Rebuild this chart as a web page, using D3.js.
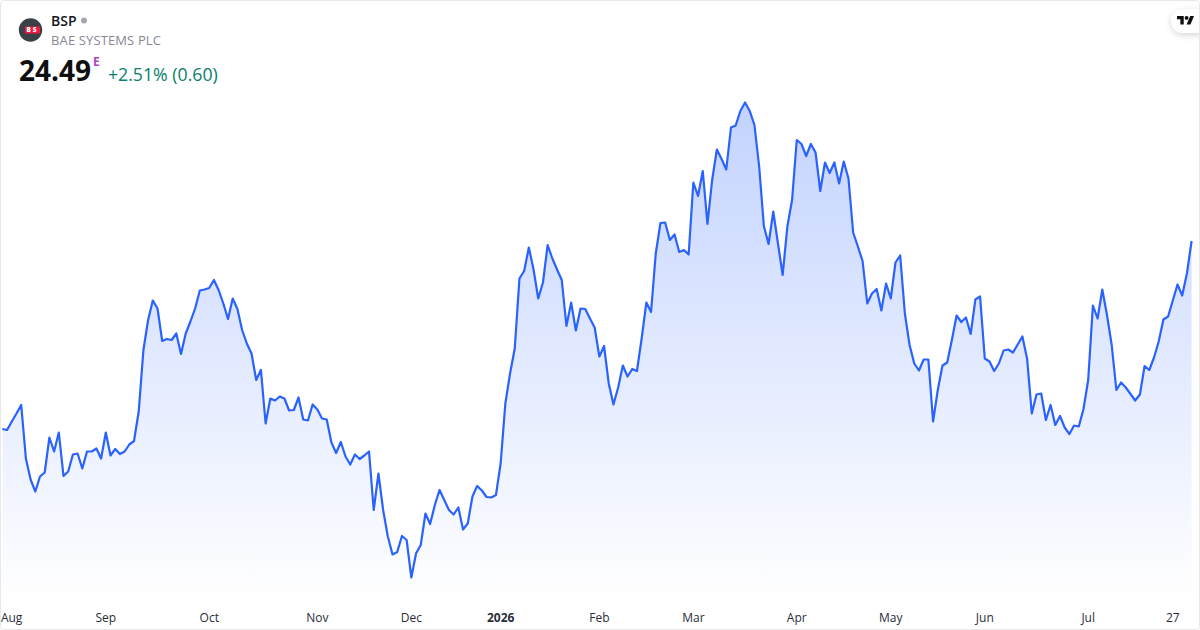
<!DOCTYPE html>
<html>
<head>
<meta charset="utf-8">
<script src="https://cdn.jsdelivr.net/npm/d3@7"></script>
<style>
  html, body { margin: 0; padding: 0; background: #fff; overflow: hidden; }
  text { font-family: "Open Sans", sans-serif; }
</style>
</head>
<body>
<div id="chart"></div>
<script>
// daily closes
const closes = [
  20.73,20.71,20.88,21.04,21.21,20.14,19.72,19.48,19.78,19.86,
  20.56,20.28,20.66,19.79,19.88,20.22,20.24,19.94,20.28,20.28,
  20.34,20.14,20.66,20.20,20.33,20.23,20.28,20.42,20.49,21.08,
  22.31,22.91,23.30,23.14,22.49,22.53,22.51,22.64,22.23,22.64,
  22.88,23.14,23.50,23.52,23.55,23.71,23.51,23.24,22.93,23.34,
  23.13,22.71,22.44,22.24,21.71,21.91,20.84,21.34,21.30,21.38,
  21.34,21.10,21.11,21.36,20.92,20.90,21.22,21.12,20.94,20.92,
  20.46,20.25,20.47,20.18,20.02,20.22,20.13,20.20,20.28,19.11,
  19.84,19.11,18.58,18.22,18.27,18.59,18.51,17.76,18.24,18.41,
  19.04,18.83,19.21,19.51,19.31,19.11,19.02,19.16,18.72,18.84,
  19.38,19.59,19.50,19.37,19.36,19.41,20.04,21.24,21.84,22.34,
  23.74,23.89,24.36,23.92,23.34,23.66,24.41,24.14,23.92,23.71,
  22.79,23.26,22.70,23.14,23.13,22.94,22.76,22.18,22.39,21.64,
  21.22,21.56,22.00,21.78,21.93,21.89,22.54,23.26,23.07,24.24,
  24.85,24.86,24.51,24.62,24.27,24.31,24.22,25.66,25.39,25.89,
  24.83,25.71,26.32,26.13,25.92,26.76,26.80,27.09,27.26,27.09,
  26.81,25.98,24.79,24.43,25.08,24.44,23.81,24.78,25.31,26.51,
  26.43,26.19,26.43,26.26,25.49,26.06,25.85,26.06,25.64,26.08,
  25.74,24.66,24.38,24.09,23.24,23.44,23.53,23.10,23.64,23.34,
  24.06,24.20,23.04,22.41,22.04,21.90,22.12,22.12,20.88,21.51,
  22.00,22.06,22.51,23.00,22.87,22.96,22.63,23.32,23.38,22.14,
  22.08,21.89,22.04,22.30,22.32,22.26,22.42,22.58,22.14,21.04,
  21.42,21.44,20.91,21.21,20.81,20.99,20.76,20.63,20.80,20.78,
  21.13,21.71,23.20,22.94,23.52,23.01,22.41,21.51,21.66,21.56,
  21.43,21.30,21.42,21.99,21.91,22.16,22.48,22.92,22.98,23.30,
  23.62,23.40,23.84,24.49
];
const tickIndex = [0, 22, 44, 67, 87, 106, 127, 147, 169, 189, 209, 231, 249];
const tickLabels = ["Aug", "Sep", "Oct", "Nov", "Dec", "2026", "Feb", "Mar", "Apr", "May", "Jun", "Jul", "27"];

const width = 1200;
const height = 630;
const plotBottom = 600;

const svg = d3.select("#chart")
  .append("svg")
    .attr("width", width)
    .attr("height", height)
    .style("display", "block");

const xScale = d3.scaleLinear()
  .domain([0, closes.length - 1])
  .range([2.4, 1191.6]);

const yScale = d3.scaleLinear()
  .domain([17.31, 29.31])
  .range([plotBottom, 0]);

const defs = svg.append("defs");
const grad = defs.append("linearGradient")
  .attr("id", "areaFill")
  .attr("gradientUnits", "userSpaceOnUse")
  .attr("x1", 0).attr("x2", 0)
  .attr("y1", 102).attr("y2", plotBottom);
grad.append("stop").attr("offset", 0).attr("stop-color", "#2962ff").attr("stop-opacity", 0.28);
grad.append("stop").attr("offset", 1).attr("stop-color", "#2962ff").attr("stop-opacity", 0);

const pillShadow = defs.append("filter")
  .attr("id", "pillShadow")
  .attr("x", "-30%").attr("y", "-30%").attr("width", "160%").attr("height", "180%");
pillShadow.append("feDropShadow")
  .attr("dx", 0).attr("dy", 2).attr("stdDeviation", 3)
  .attr("flood-color", "#000").attr("flood-opacity", 0.16);

const area = d3.area()
  .x((d, i) => xScale(i))
  .y0(plotBottom)
  .y1(d => yScale(d));

const line = d3.line()
  .x((d, i) => xScale(i))
  .y(d => yScale(d));

svg.append("path")
  .datum(closes)
  .attr("fill", "url(#areaFill)")
  .attr("d", area);

svg.append("path")
  .datum(closes)
  .attr("fill", "none")
  .attr("stroke", "#2962ff")
  .attr("stroke-width", 2.2)
  .attr("stroke-linejoin", "round")
  .attr("d", line);

// month axis
const axis = svg.append("g")
  .attr("transform", `translate(-0.5, 605)`)
  .call(d3.axisBottom(xScale)
    .tickValues(tickIndex)
    .tickSize(0)
    .tickPadding(0)
    .tickFormat((d, i) => tickLabels[i]));
axis.select(".domain").remove();
axis.selectAll("text")
  .attr("y", 17)
  .attr("dy", 0)
  .attr("fill", "#2a2e39")
  .style("font-family", '"Open Sans", sans-serif')
  .style("font-size", "12px")
  .style("font-weight", d => d === 106 ? 700 : 400);
axis.selectAll("text").filter(d => d === 0)
  .attr("text-anchor", "start")
  .attr("x", -1.5);

// header
const logo = svg.append("g").attr("transform", "translate(30.5, 30)");
logo.append("circle").attr("r", 11.7).attr("fill", "#3b3f46");
logo.append("rect").attr("x", -5.5).attr("y", -3.5).attr("width", 15).attr("height", 7).attr("fill", "#f2183f");
logo.append("text")
  .attr("x", 2)
  .attr("text-anchor", "middle")
  .attr("y", 2.4)
  .attr("fill", "#fff")
  .style("font-size", "6.5px")
  .style("font-weight", 800)
  .style("letter-spacing", "2px")
  .text("BS");

svg.append("text")
  .attr("x", 51).attr("y", 26)
  .attr("fill", "#131722")
  .style("font-size", "14px")
  .style("font-weight", 600)
  .text("BSP");
svg.append("circle")
  .attr("cx", 84).attr("cy", 20.5).attr("r", 3)
  .attr("fill", "#a3a6af");
svg.append("text")
  .attr("x", 51).attr("y", 45)
  .attr("fill", "#868993")
  .style("font-size", "13px")
  .style("letter-spacing", "0.13px")
  .text("BAE SYSTEMS PLC");
svg.append("text")
  .attr("x", 19).attr("y", 81)
  .attr("fill", "#0f0f0f")
  .style("font-size", "28px")
  .style("font-weight", 700)
  .text("24.49");
svg.append("text")
  .attr("x", 93).attr("y", 66)
  .attr("fill", "#ab47bc")
  .style("font-size", "12px")
  .style("font-weight", 700)
  .text("E");
svg.append("text")
  .attr("x", 108).attr("y", 81)
  .attr("fill", "#07806c")
  .style("font-size", "17.7px")
  .text("+2.51% (0.60)");

// TV badge top right
svg.append("rect")
  .attr("x", 1171).attr("y", 9)
  .attr("width", 50).attr("height", 24)
  .attr("rx", 12)
  .attr("fill", "#fff")
  .attr("filter", "url(#pillShadow)");
const tv = svg.append("g")
  .attr("transform", "translate(1177, 12.6) scale(0.48)")
  .attr("fill", "#0f0f0f");
tv.append("path").attr("d", "M14 25H7V14H0V7h14v18zM28 25h-8l7.5-18h8L28 25z");
tv.append("circle").attr("cx", 20).attr("cy", 11).attr("r", 4);

// card border
svg.append("rect")
  .attr("x", 0.5).attr("y", 0.5)
  .attr("width", width - 1).attr("height", height - 1)
  .attr("rx", 3)
  .attr("fill", "none")
  .attr("stroke", "#e8e8e8");
</script>
</body>
</html>
